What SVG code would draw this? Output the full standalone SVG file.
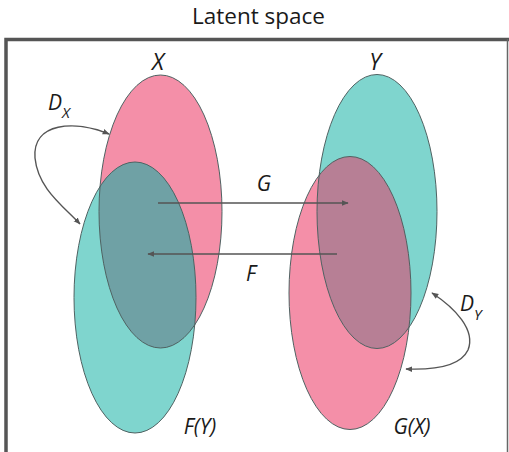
<svg xmlns="http://www.w3.org/2000/svg" width="509" height="452" viewBox="0 0 509 452">
<defs>
<style>
.t{font-family:"Open Sans","Liberation Sans",sans-serif;fill:#1a1a1a}
.i{font-style:italic}
.pink{fill:#f48fa8}
.teal{fill:#7fd5ce}
.ol{fill:none;stroke:#4f6262;stroke-width:1}
.ar{fill:none;stroke:#555;stroke-width:1.4}
</style>
<marker id="ah" viewBox="0 0 10 10" refX="9" refY="5" markerWidth="7" markerHeight="7" orient="auto-start-reverse" markerUnits="userSpaceOnUse">
<path d="M0,1 L10,5 L0,9 z" fill="#555"/>
</marker>
<clipPath id="cpX"><ellipse cx="160.5" cy="211.5" rx="61.5" ry="136.5"/></clipPath>
<clipPath id="cpY"><ellipse cx="377" cy="211.5" rx="60" ry="137"/></clipPath>
</defs>
<rect width="509" height="452" fill="#fff"/>
<g id="frame">
<path d="M6,452 V39.5 H509" fill="none" stroke="#555" stroke-width="3.5"/>
<line x1="507.5" y1="39" x2="507.5" y2="452" stroke="#666" stroke-width="1.5"/>
</g>
<text class="t" x="258.5" y="24" font-size="21" text-anchor="middle" textLength="133" lengthAdjust="spacingAndGlyphs">Latent space</text>
<g id="node-X">
<ellipse class="pink" cx="160.5" cy="211.5" rx="61.5" ry="136.5"/>
</g>
<g id="node-FY">
<ellipse class="teal" cx="135" cy="297.5" rx="61" ry="135.5"/>
<ellipse cx="135" cy="297.5" rx="61" ry="135.5" fill="#6fa1a5" clip-path="url(#cpX)"/>
<ellipse class="ol" cx="135" cy="297.5" rx="61" ry="135.5"/>
</g>
<ellipse class="ol" cx="160.5" cy="211.5" rx="61.5" ry="136.5"/>
<g id="node-Y">
<ellipse class="teal" cx="377" cy="211.5" rx="60" ry="137"/>
</g>
<g id="node-GX">
<ellipse class="pink" cx="350" cy="293" rx="61" ry="136.5"/>
<ellipse cx="350" cy="293" rx="61" ry="136.5" fill="#b77f95" clip-path="url(#cpY)"/>
<ellipse class="ol" cx="350" cy="293" rx="61" ry="136.5"/>
</g>
<ellipse class="ol" cx="377" cy="211.5" rx="60" ry="137"/>
<g id="connectors">
<line class="ar" x1="158" y1="203" x2="348" y2="203" marker-end="url(#ah)"/>
<line class="ar" x1="337" y1="254" x2="148" y2="254" marker-end="url(#ah)"/>
<path class="ar" d="M109,134 C75,120 32,122 35,158 C38,188 62,205 80,224" marker-start="url(#ah)" marker-end="url(#ah)"/>
<path class="ar" d="M432,293 C455,308 476,330 468,350 C460,367 432,370 406,369" marker-start="url(#ah)" marker-end="url(#ah)"/>
</g>
<g id="labels">
<text class="t i" x="158" y="70" font-size="23" text-anchor="middle">X</text>
<text class="t i" x="375" y="70" font-size="23" text-anchor="middle">Y</text>
<text class="t i" x="264" y="191" font-size="21" text-anchor="middle">G</text>
<text class="t i" x="251" y="281" font-size="21" text-anchor="middle">F</text>
<text class="t i" x="48" y="110" font-size="21">D<tspan font-size="15" dy="8">X</tspan></text>
<text class="t i" x="460" y="311" font-size="21">D<tspan font-size="15" dy="9">Y</tspan></text>
<text class="t i" x="200" y="434" font-size="21" text-anchor="middle">F(Y)</text>
<text class="t i" x="412" y="434" font-size="21" text-anchor="middle">G(X)</text>
</g>
</svg>
